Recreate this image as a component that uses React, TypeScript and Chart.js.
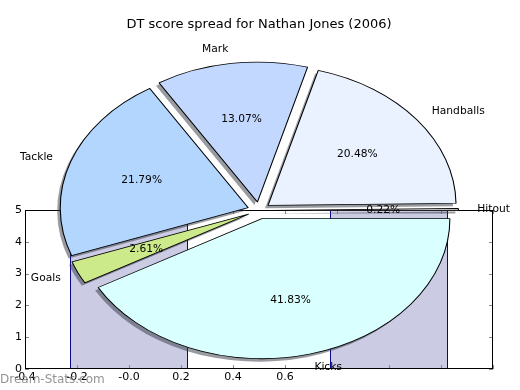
import React, { useEffect, useRef } from "react";
import { Chart, registerables } from "chart.js";

Chart.register(...registerables);

// ---- data (counter-clockwise from 3 o'clock, as in the original) ----
const TITLE = "DT score spread for Nathan Jones (2006)";
const PIE_LABELS = ["Hitout", "Handballs", "Mark", "Tackle", "Goals", "Kicks"];
const PIE_VALUES = [0.22, 20.48, 13.07, 21.79, 2.61, 41.83];
const PIE_COLORS = ["#f8f8ff", "#eaf1ff", "#c3d8ff", "#b3d6ff", "#cdea8a", "#d9ffff"];

const BAR_X = [0, 1];
const BAR_Y = [5, 5];
const BAR_WIDTH = 0.454;
const X_MIN = -0.4;
const X_MAX = 1.4;
const X_STEP = 0.2;
const X_LAST_LABEL = 0.6;
const Y_MIN = 0;
const Y_MAX = 5;
const Y_STEP = 1;
const WATERMARK = "Dream-Stats.com";

// ---- styling ----
const FONT = '"DejaVu Sans", sans-serif';
const STRETCH = 188 / 140; // horizontal stretch of the (non-equal-aspect) pie
const EXPLODE = 8.5;
const LABEL_DIST = 1.1;
const PCT_DIST = 0.6;
const SHADOW_DX = -3;
const SHADOW_DY = 3;
const SHADOW_COLOR = "rgba(50,55,65,0.5)";

const W = 520;
const H = 390;

const barFrame = {
  id: "barFrame",
  afterDraw(chart: any) {
    const { ctx, chartArea: a, scales } = chart;
    ctx.save();
    ctx.strokeStyle = "#888";
    ctx.lineWidth = 1;
    ctx.beginPath();
    scales.x.ticks.forEach((t: any) => {
      const px = Math.round(scales.x.getPixelForValue(t.value)) + 0.5;
      ctx.moveTo(px, a.bottom);
      ctx.lineTo(px, a.bottom - 4);
      ctx.moveTo(px, a.top);
      ctx.lineTo(px, a.top + 4);
    });
    scales.y.ticks.forEach((t: any) => {
      const py = Math.round(scales.y.getPixelForValue(t.value)) + 0.5;
      ctx.moveTo(a.left, py);
      ctx.lineTo(a.left + 4, py);
      ctx.moveTo(a.right, py);
      ctx.lineTo(a.right - 4, py);
    });
    ctx.stroke();
    ctx.strokeStyle = "#000";
    ctx.strokeRect(a.left + 0.5, a.top + 0.5, a.right - a.left - 1, a.bottom - a.top - 1);
    ctx.font = `12px ${FONT}`;
    ctx.fillStyle = "rgba(120,120,120,0.8)";
    ctx.textBaseline = "middle";
    ctx.textAlign = "left";
    ctx.fillText(WATERMARK, 0, 380);
    ctx.restore();
  },
};

function stretchAbout(ctx: CanvasRenderingContext2D, cx: number) {
  ctx.translate(cx, 0);
  ctx.scale(STRETCH, 1);
  ctx.translate(-cx, 0);
}

const explodedPie = {
  id: "explodedPie",
  beforeDatasetDraw(chart: any, args: any) {
    const ctx = chart.ctx;
    const arcs = chart.getDatasetMeta(args.index).data;
    // shadows first (below all wedges)
    arcs.forEach((el: any) => {
      const mid = (el.startAngle + el.endAngle) / 2;
      ctx.save();
      ctx.translate(SHADOW_DX, SHADOW_DY);
      stretchAbout(ctx, el.x);
      ctx.translate(Math.cos(mid) * EXPLODE, Math.sin(mid) * EXPLODE);
      const saved = el.options;
      el.options = { ...saved, backgroundColor: SHADOW_COLOR, borderWidth: 0 };
      el.draw(ctx);
      el.options = saved;
      ctx.restore();
    });
    arcs.forEach((el: any) => {
      const mid = (el.startAngle + el.endAngle) / 2;
      ctx.save();
      stretchAbout(ctx, el.x);
      ctx.translate(Math.cos(mid) * EXPLODE, Math.sin(mid) * EXPLODE);
      el.draw(ctx);
      ctx.restore();
    });
    return false;
  },
  afterDatasetsDraw(chart: any) {
    const ctx = chart.ctx;
    const meta = chart.getDatasetMeta(0);
    const labels = chart.data.labels;
    const values = chart.data.datasets[0].data as number[];
    const total = values.reduce((s, v) => s + v, 0);
    ctx.save();
    ctx.font = `10.7px ${FONT}`;
    ctx.fillStyle = "#000";
    ctx.textBaseline = "middle";
    meta.data.forEach((el: any, i: number) => {
      const mid = (el.startAngle + el.endAngle) / 2;
      const c = Math.cos(mid);
      const s = Math.sin(mid);
      const R = el.outerRadius;
      const ex = el.x + c * EXPLODE;
      const ey = el.y + s * EXPLODE;
      const toX = (ux: number) => el.x + (ux - el.x) * STRETCH;
      ctx.textAlign = c > 0 ? "left" : "right";
      ctx.fillText(labels[i], toX(ex + c * LABEL_DIST * R), ey + s * LABEL_DIST * R);
      ctx.textAlign = "center";
      ctx.fillText(((values[i] / total) * 100).toFixed(2) + "%", toX(ex + c * PCT_DIST * R), ey + s * PCT_DIST * R);
    });
    ctx.restore();
  },
};

export default function App() {
  const barRef = useRef<HTMLCanvasElement>(null);
  const pieRef = useRef<HTMLCanvasElement>(null);

  useEffect(() => {
    document.body.style.margin = "0";
    const bar = new Chart(barRef.current!, {
      type: "bar",
      data: {
        datasets: [
          {
            data: BAR_X.map((x, i) => ({ x, y: BAR_Y[i] })),
            backgroundColor: "#cbcbe3",
            borderColor: "#00008b",
            borderWidth: { left: 1, right: 1, top: 0, bottom: 0 },
            borderSkipped: false,
            // bar width in data units, relative to the tick spacing the ruler uses
            categoryPercentage: BAR_WIDTH / X_STEP,
            barPercentage: 1,
          } as any,
        ],
      },
      options: {
        animation: false,
        responsive: false,
        devicePixelRatio: 1,
        layout: { padding: { left: 0, right: W - 493, top: 210, bottom: 0 } },
        scales: {
          x: {
            type: "linear",
            min: X_MIN,
            max: X_MAX,
            offset: false,
            grid: { display: false, drawTicks: false },
            border: { display: false },
            ticks: {
              stepSize: X_STEP,
              padding: 2,
              maxRotation: 0,
              autoSkip: false,
              color: "#000",
              font: { family: FONT, size: 11 },
              callback: (v: any) => (Number(v) <= X_LAST_LABEL + 1e-6 ? Number(v).toFixed(1) : ""),
            },
            afterFit: (s: any) => {
              s.height = 21;
            },
          },
          y: {
            min: Y_MIN,
            max: Y_MAX,
            grid: { display: false, drawTicks: false },
            border: { display: false },
            ticks: {
              stepSize: Y_STEP,
              padding: 3,
              color: "#000",
              font: { family: FONT, size: 11 },
            },
            afterFit: (s: any) => {
              s.width = 25;
            },
          },
        },
        plugins: { legend: { display: false }, tooltip: { enabled: false } },
      } as any,
      plugins: [barFrame],
    });

    const pie = new Chart(pieRef.current!, {
      type: "pie",
      data: {
        // Chart.js runs clockwise, the original counter-clockwise: reverse
        labels: [...PIE_LABELS].reverse(),
        datasets: [
          {
            data: [...PIE_VALUES].reverse(),
            backgroundColor: [...PIE_COLORS].reverse(),
            borderColor: "#000",
            borderWidth: 0.8,
            offset: 0,
          },
        ],
      },
      options: {
        animation: false,
        responsive: false,
        devicePixelRatio: 1,
        rotation: 90,
        radius: 140,
        layout: { padding: { left: 0, right: 2, top: 0, bottom: 1.8 } },
        plugins: {
          legend: { display: false },
          tooltip: { enabled: false },
          title: {
            display: true,
            text: TITLE,
            color: "#000",
            font: { family: FONT, size: 13, weight: "normal", lineHeight: 1.2 },
            padding: { top: 17.2, bottom: 0 },
          },
        },
      } as any,
      plugins: [explodedPie],
    });

    return () => {
      bar.destroy();
      pie.destroy();
    };
  }, []);

  return (
    <div style={{ position: "fixed", left: 0, top: 0, width: W, height: H, background: "#fff" }}>
      <canvas ref={barRef} width={W} height={H} style={{ position: "absolute", left: 0, top: 0 }} />
      <canvas ref={pieRef} width={W} height={H} style={{ position: "absolute", left: 0, top: 0 }} />
    </div>
  );
}
